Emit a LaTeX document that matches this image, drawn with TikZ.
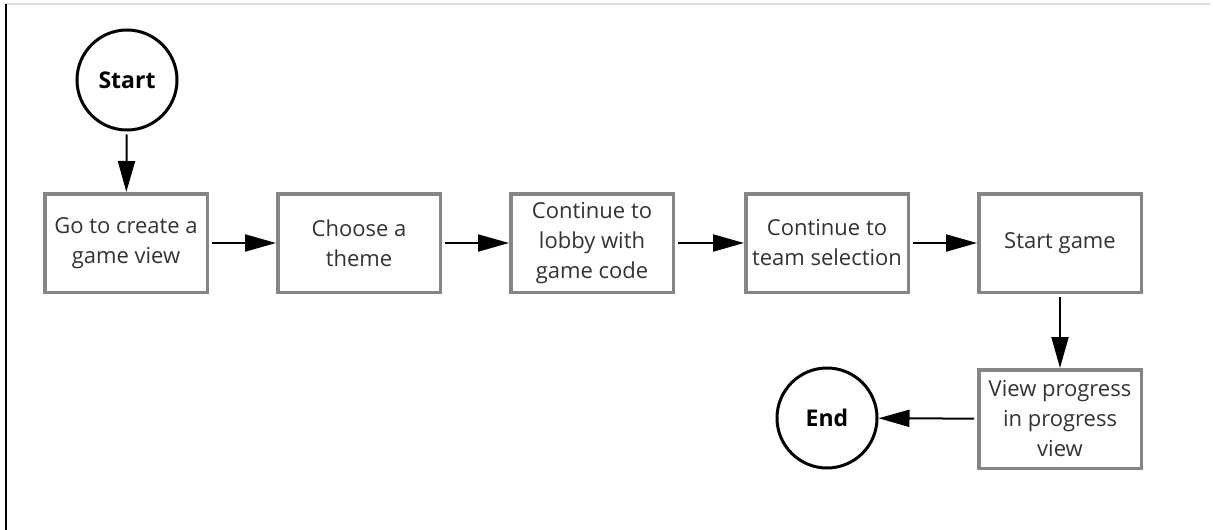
\documentclass[tikz,border=0pt]{standalone}
\usepackage{fontspec}
\setmainfont{Open Sans}
\usetikzlibrary{arrows.meta}
\definecolor{boxgray}{HTML}{858585}
\definecolor{textgray}{HTML}{333333}
\definecolor{rulegray}{HTML}{DDDDDD}
\tikzset{
  stepbox/.style={draw=boxgray, line width=3.5pt, rectangle, minimum width=162.5pt,
    minimum height=98.5pt, align=center, text=textgray,
    font=\fontsize{22pt}{30pt}\selectfont},
  terminal/.style={draw=black, line width=3pt, circle, minimum size=100pt,
    font=\fontsize{23pt}{24pt}\selectfont\bfseries},
  flow/.style={line width=2pt, -{Triangle[length=31pt,width=17pt]}, shorten <=3pt}
}
\begin{document}
\begin{tikzpicture}[x=1pt, y=-1pt]
    \useasboundingbox (0,0) rectangle (1213,530);
    % frame
    \draw[rulegray, line width=1.5pt] (6,4) -- (1210,4);
    \draw[black, line width=2pt] (6,4) -- (6,530);

    % start / end
    \node[terminal] (start) at (127,80) {Start};
    \node[terminal] (end) at (827,418) {End};

    % steps
    \node[stepbox] (create) at (126,243) {Go to create a\\game view};
    \node[stepbox] (theme) at (359,243) {Choose a\\theme};
    \node[stepbox] (lobby) at (592,243) {Continue to\\lobby with\\game code};
    \node[stepbox] (team) at (827,243) {Continue to\\team selection};
    \node[stepbox] (game) at (1060,243) {Start game};
    \node[stepbox] (progress) at (1060,419) {View progress\\in progress\\view};

    % arrows
    \draw[flow] (start) -- (create);
    \draw[flow] (create) -- (theme);
    \draw[flow] (theme) -- (lobby);
    \draw[flow] (lobby) -- (team);
    \draw[flow] (team) -- (game);
    \draw[flow] (game) -- (progress);
    \draw[flow] (progress) -- (end);
\end{tikzpicture}
\end{document}
